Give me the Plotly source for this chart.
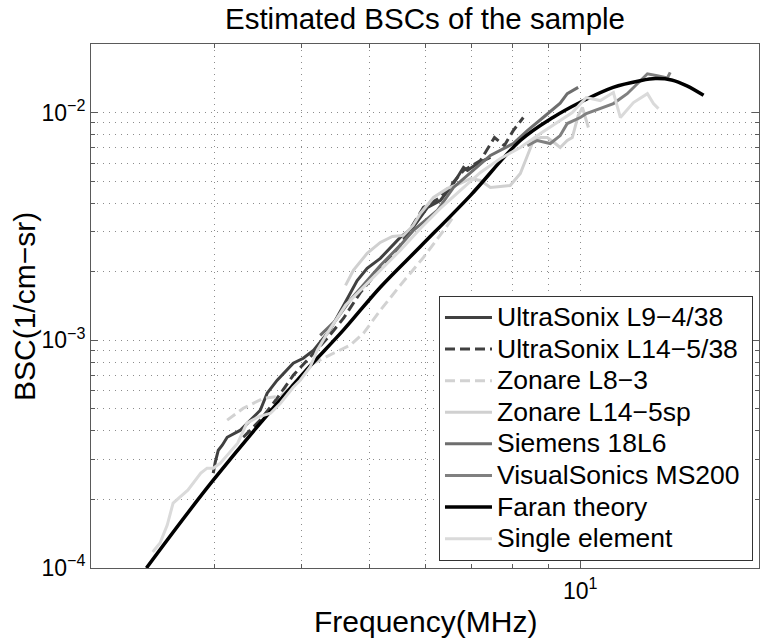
import plotly.graph_objects as go

# curves: frequency in MHz, BSC in 1/cm-sr
l9_freq = [2.99, 3.01, 3.04, 3.08, 3.13, 3.27, 3.38, 3.49, 3.57, 3.69, 3.89, 4.02, 4.16, 4.39,
           4.59, 4.80, 4.96, 5.18, 5.53, 5.77, 6.05, 6.31, 6.59, 6.81, 6.90, 7.13, 7.44]
l9_bsc = [2.61e-4, 2.92e-4, 3.29e-4, 3.46e-4, 3.75e-4, 4.03e-4, 4.46e-4, 4.93e-4, 5.86e-4, 6.68e-4,
          7.93e-4, 8.34e-4, 9.04e-4, 1.11e-3, 1.42e-3, 1.83e-3, 2.07e-3, 2.29e-3, 2.83e-3, 3.13e-3,
          3.83e-3, 4.11e-3, 4.88e-3, 5.74e-3, 5.57e-3, 5.98e-3, 6.35e-3]

l14_freq = [3.30, 3.49, 3.69, 3.89, 4.11, 4.35, 4.59, 4.85, 5.18, 5.53, 5.97, 6.31, 6.81, 7.20,
            7.54, 7.79, 8.02, 8.29]
l14_bsc = [3.75e-4, 4.46e-4, 5.57e-4, 7.02e-4, 8.42e-4, 1.02e-3, 1.25e-3, 1.62e-3, 2.07e-3, 2.61e-3,
           3.83e-3, 4.24e-3, 5.57e-3, 6.15e-3, 7.77e-3, 7.16e-3, 8.33e-3, 9.51e-3]

zl8_freq = [3.13, 3.30, 3.53, 3.73, 3.94, 4.16, 4.44, 4.69, 4.90, 5.18, 5.53, 5.97, 6.46, 6.56]
zl8_bsc = [4.46e-4, 5.03e-4, 5.57e-4, 5.68e-4, 6.68e-4, 7.93e-4, 8.77e-4, 9.51e-4, 1.073e-3, 1.354e-3,
           1.742e-3, 2.312e-3, 3.194e-3, 3.428e-3]

zl14_freq = [4.62, 4.74, 4.96, 5.18, 5.39, 5.59, 5.77, 5.91, 6.17, 6.46, 6.74, 6.97, 7.20, 7.44,
             7.69, 7.94, 8.21, 8.40, 8.57, 8.77, 8.97, 9.21, 9.36, 9.58, 9.74, 9.93, 10.07, 10.27]
zl14_bsc = [1.742e-3, 2.028e-3, 2.407e-3, 2.690e-3, 2.858e-3, 2.887e-3, 3.194e-3, 3.606e-3, 4.238e-3,
            4.642e-3, 4.882e-3, 5.134e-3, 5.032e-3, 4.689e-3, 4.735e-3, 4.783e-3, 5.400e-3, 6.477e-3,
            7.537e-3, 7.769e-3, 7.769e-3, 7.311e-3, 7.022e-3, 7.537e-3, 7.769e-3, 9.700e-3, 1.052e-2,
            8.597e-3]

siemens_freq = [4.25, 4.47, 4.69, 4.96, 5.18, 5.53, 5.77, 6.25, 6.59, 7.03, 7.44, 8.02, 8.40, 8.85,
                9.36, 9.58, 9.93]
siemens_bsc = [1.05e-3, 1.22e-3, 1.50e-3, 1.83e-3, 2.13e-3, 2.61e-3, 3.03e-3, 3.72e-3, 4.69e-3, 5.57e-3,
               6.48e-3, 7.31e-3, 8.33e-3, 9.51e-3, 1.10e-2, 1.21e-2, 1.29e-2]

vs_freq = [8.40, 8.68, 9.06, 9.36, 9.58, 10.0, 10.2, 10.68, 11.15, 11.67, 12.06, 12.47, 12.88, 13.32, 13.44]
vs_bsc = [7.16e-3, 7.54e-3, 7.31e-3, 7.92e-3, 8.95e-3, 9.51e-3, 9.90e-3, 1.04e-2, 1.095e-2, 1.21e-2,
          1.34e-2, 1.48e-2, 1.45e-2, 1.42e-2, 1.50e-2]

faran_freq = [2.40, 2.99, 3.98, 4.59, 5.18, 5.91, 6.97, 8.21, 9.15, 10.0, 11.14, 12.18, 12.8, 13.5, 14.2, 15.0]
faran_bsc = [1.00e-4, 2.43e-4, 6.90e-4, 1.11e-3, 1.71e-3, 2.58e-3, 4.33e-3, 7.54e-3, 9.54e-3, 1.11e-2,
             1.29e-2, 1.38e-2, 1.41e-2, 1.39e-2, 1.31e-2, 1.19e-2]

single_freq = [2.45, 2.51, 2.57, 2.62, 2.75, 2.87, 2.93, 2.99, 3.06, 3.24, 3.34, 3.46, 3.61, 3.73,
               3.89, 3.98, 4.11, 4.21, 4.35, 4.62, 4.85, 5.18, 5.53, 5.91, 6.31, 6.74, 7.20, 7.69,
               8.21, 8.77, 9.36, 9.74, 10.20, 10.68, 11.15, 11.41, 11.91, 12.47, 12.72, 12.93]
single_bsc = [1.175e-4, 1.287e-4, 1.544e-4, 1.928e-4, 2.198e-4, 2.610e-4, 2.745e-4, 2.745e-4, 2.887e-4,
              3.534e-4, 4.325e-4, 4.595e-4, 4.783e-4, 5.293e-4, 6.221e-4, 6.676e-4, 7.614e-4, 9.040e-4,
              1.073e-3, 1.424e-3, 1.657e-3, 2.028e-3, 2.482e-3, 3.098e-3, 3.792e-3, 4.548e-3, 5.455e-3,
              6.283e-3, 7.022e-3, 8.091e-3, 9.224e-3, 1.0e-2, 1.164e-2, 1.129e-2, 1.224e-2, 9.508e-3,
              1.106e-2, 1.211e-2, 1.095e-2, 1.041e-2]

names = ['UltraSonix L9−4/38', 'UltraSonix L14−5/38', 'Zonare L8−3', 'Zonare L14−5sp',
         'Siemens 18L6', 'VisualSonics MS200', 'Faran theory', 'Single element']

x_minor = [3, 4, 5, 6, 7, 8, 9]
y_minor = [2e-4, 3e-4, 4e-4, 5e-4, 6e-4, 7e-4, 8e-4, 9e-4,
           2e-3, 3e-3, 4e-3, 5e-3, 6e-3, 7e-3, 8e-3, 9e-3]
y_ticks = [1e-4, 1e-3, 1e-2]
y_ticktext = ['10<sup>−4</sup>', '10<sup>−3</sup>', '10<sup>−2</sup>']

series = [
    (l9_freq, l9_bsc, '#404040', 3, 'solid'),
    (l14_freq, l14_bsc, '#404040', 3, '10px,5px'),
    (zl8_freq, zl8_bsc, '#d2d2d2', 3, '10px,5px'),
    (zl14_freq, zl14_bsc, '#d0d0d0', 3, 'solid'),
    (siemens_freq, siemens_bsc, '#6e6e6e', 3, 'solid'),
    (vs_freq, vs_bsc, '#808080', 3, 'solid'),
    (faran_freq, faran_bsc, '#000000', 3.5, 'solid'),
    (single_freq, single_bsc, '#dadada', 3, 'solid'),
]

fig = go.Figure()
for name, (f, b, col, w, dash) in zip(names, series):
    shape = 'spline' if name == 'Faran theory' else 'linear'
    # legend rows are sized by legend.font, the label itself drawn a bit larger
    label = '<span style="font-size:26.5px">' + name + '\u00a0</span>'
    fig.add_trace(go.Scatter(x=f, y=b, mode='lines', name=label,
                             line=dict(color=col, width=w, dash=dash, shape=shape)))

grid = dict(showgrid=True, gridcolor='#8c8c8c', griddash='1px,5px', gridwidth=1)
axis = dict(type='log', showline=True, linecolor='#5a5a5a', linewidth=1, mirror='allticks',
            ticks='inside', ticklen=7, tickcolor='#5a5a5a', zeroline=False, automargin=False,
            tickfont=dict(size=23, color='black'), **grid)

fig.update_xaxes(range=[0.30103, 1.25527], tickvals=[10], ticktext=['10<sup>1</sup>'],
                 minor=dict(tickvals=x_minor, ticks='inside', ticklen=4, tickcolor='#5a5a5a', **grid),
                 ticklabelstandoff=2, **axis)
fig.update_yaxes(range=[-4, -1.69897], tickvals=y_ticks, ticktext=y_ticktext,
                 minor=dict(tickvals=y_minor, ticks='inside', ticklen=4, tickcolor='#5a5a5a', **grid),
                 **axis)

# axis titles placed as annotations for exact positioning
fig.add_annotation(text='Frequency(MHz)', xref='paper', yref='paper', x=0.5, y=-0.103,
                   xanchor='center', yanchor='middle', showarrow=False, font=dict(size=30))
fig.add_annotation(text='BSC(1/cm−sr)', xref='paper', yref='paper', x=-0.1003, y=0.5,
                   xanchor='center', yanchor='middle', textangle=-90, showarrow=False,
                   font=dict(size=30))

fig.update_layout(
    width=760, height=641,
    margin=dict(l=91, r=1, t=44, b=73, autoexpand=False),
    paper_bgcolor='white', plot_bgcolor='white',
    font=dict(family='Liberation Sans, Arial, sans-serif', color='black'),
    title=dict(text='Estimated BSCs of the sample', x=0.5, xref='paper', xanchor='center',
               y=1 - 19 / 641, yref='container', yanchor='middle', font=dict(size=29.5)),
    legend=dict(x=0.991, y=0.014, xanchor='right', yanchor='bottom', bgcolor='white',
                bordercolor='#333333', borderwidth=1, font=dict(size=22), itemwidth=47),
)

fig.write_html("out.html", config={'displayModeBar': False},
               post_script="document.body.style.margin='0';")
